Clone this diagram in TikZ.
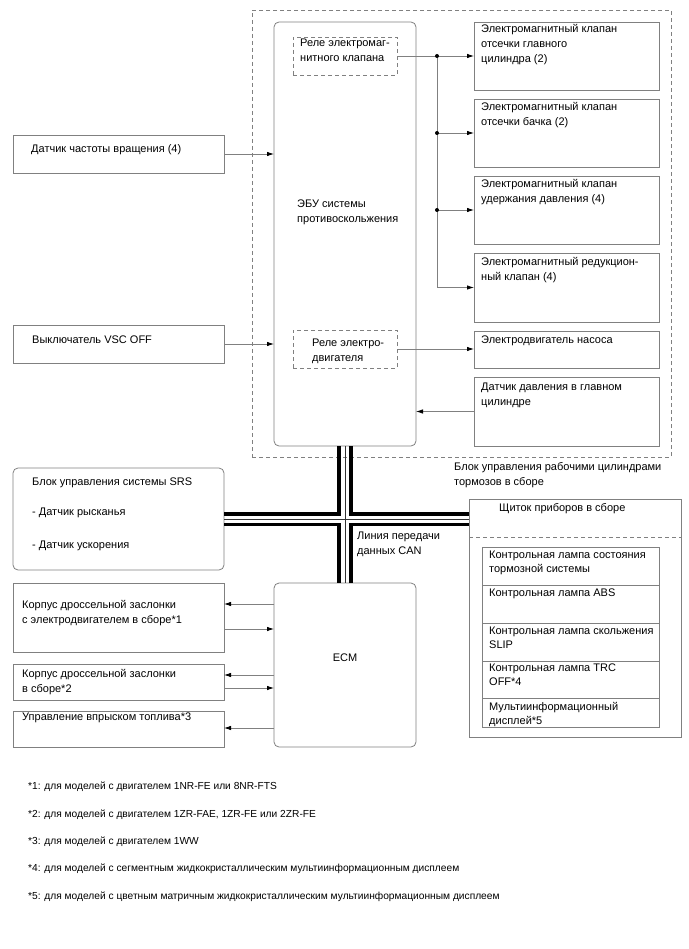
\documentclass[tikz,border=0pt]{standalone}
\usepackage{fontspec}
\setmainfont{Liberation Sans}
\usetikzlibrary{arrows.meta,calc}
\definecolor{lg}{RGB}{128,128,128}
\newcommand\myfs{\fontsize{11}{15}\selectfont}
\newcommand\myfsi{\fontsize{11}{14.3}\selectfont}
\newcommand\myfsn{\fontsize{10.2}{14}\selectfont}
\begin{document}
\begin{tikzpicture}[x=1pt,y=-1pt,
  bx/.style={draw=lg, line width=0.8pt, anchor=north west, inner sep=0pt, outer sep=0pt},
  rbx/.style={bx, rounded corners=5pt},
  dbx/.style={bx, dash pattern=on 4pt off 3pt},
  txt/.style={anchor=base west, inner sep=0pt, align=left, font=\myfs},
  ltwo/.style={yshift=-15pt},
  lthree/.style={yshift=-30pt},
  itxt/.style={txt, font=\myfsi},
  ilt/.style={yshift=-14.3pt},
  ntxt/.style={txt, font=\myfsn},
  conn/.style={draw=lg, line width=0.8pt},
  arr/.style={conn, -{Latex[length=7pt,width=4.5pt,black]}},
  bus/.style={line width=3.6pt, black},
  dotc/.style={fill=black},
  ]
\path[use as bounding box] (0,0) rectangle (688,949);

% outer dashed block
\node[dbx, minimum width=419pt, minimum height=447pt] (blk) at (252,10) {};
% ECU
\node[rbx, fill=white, minimum width=142pt, minimum height=424pt] (ecu) at (274,22) {};
\node[dbx, minimum width=104pt, minimum height=38pt] (rel1) at (293,37) {};
\node[dbx, minimum width=104pt, minimum height=38pt] (rel2) at (293,330) {};
% right boxes
\node[bx, minimum width=185pt, minimum height=68pt] (b1) at (474,22) {};
\node[bx, minimum width=185pt, minimum height=68pt] (b2) at (474,99) {};
\node[bx, minimum width=185pt, minimum height=68pt] (b3) at (474,176) {};
\node[bx, minimum width=185pt, minimum height=69pt] (b4) at (474,253) {};
\node[bx, minimum width=185pt, minimum height=37pt] (b5) at (474,331) {};
\node[bx, minimum width=185pt, minimum height=69pt] (b6) at (474,377) {};
% left boxes
\node[bx, minimum width=211pt, minimum height=38pt] (sens) at (13,135) {};
\node[bx, minimum width=211pt, minimum height=38pt] (vsc) at (13,325) {};
\node[rbx, minimum width=211pt, minimum height=102pt] (srs) at (13,468) {};
\node[bx, minimum width=211pt, minimum height=69pt] (thr1) at (13,583) {};
\node[bx, minimum width=211pt, minimum height=36pt] (thr2) at (13,664) {};
\node[bx, minimum width=211pt, minimum height=36pt] (fuel) at (13,711) {};
% ECM
\node[rbx, minimum width=142pt, minimum height=164pt] (ecm) at (274,583) {};
% instrument cluster
\node[bx, minimum width=212pt, minimum height=238pt] (inst) at (469,499) {};
\node[bx, minimum width=177pt, minimum height=180pt] (inner) at (482,547) {};
\draw[lg, line width=0.8pt, dash pattern=on 4pt off 3pt] ($(inst.north west)+(0,38)$) -- ($(inst.north east)+(0,38)$);
\foreach \d in {38,76,114,151}
  \draw[lg, line width=0.8pt] ($(inner.north west)+(0,\d)$) -- ($(inner.north east)+(0,\d)$);

% texts
\node[txt, lthree] (t1) at (481,33) {Электромагнитный клапан\\отсечки главного\\цилиндра (2)};
\node[txt, ltwo] (t2) at (481,111) {Электромагнитный клапан\\отсечки бачка (2)};
\node[txt, ltwo] (t3) at (481,188) {Электромагнитный клапан\\удержания давления (4)};
\node[txt, ltwo] (t4) at (481,265) {Электромагнитный редукцион-\\ный клапан (4)};
\node[txt] (t5) at (481,343) {Электродвигатель насоса};
\node[txt, ltwo] (t6) at (481,390) {Датчик давления в главном\\цилиндре};
\node[txt, ltwo] (tr1) at (300,47) {Реле электромаг-\\нитного клапана};
\node[txt, ltwo] (tecu) at (297,208) {ЭБУ системы\\противоскольжения};
\node[txt, ltwo] (tr2) at (312,346) {Реле электро-\\двигателя};
\node[txt] (ts) at (31,153) {Датчик частоты вращения (4)};
\node[txt] (tv) at (32,343) {Выключатель VSC OFF};
\node[txt] (tsrs1) at (32,485) {Блок управления системы SRS};
\node[txt] (tsrs2) at (32,515) {- Датчик рысканья};
\node[txt] (tsrs3) at (32,548) {- Датчик ускорения};
\node[txt, ltwo] (tcan) at (357,539) {Линия передачи\\данных CAN};
\node[txt, ltwo] (tblk) at (454,470) {Блок управления рабочими цилиндрами\\тормозов в сборе};
\node[txt] (tinst) at (499,511) {Щиток приборов в сборе};
\node[itxt, ilt] (ti1) at (489,558) {Контрольная лампа состояния\\тормозной системы};
\node[itxt] (ti2) at (489,596.5) {Контрольная лампа ABS};
\node[itxt, ilt] (ti3) at (489,634) {Контрольная лампа скольжения\\SLIP};
\node[itxt, ilt] (ti4) at (489,671.5) {Контрольная лампа TRC\\OFF*4};
\node[itxt, ilt] (ti5) at (489,710) {Мультиинформационный\\дисплей*5};
\node[anchor=base, inner sep=0pt, font=\myfs] (tecm) at (345,661) {ECM};
\node[txt, ltwo] (tt1) at (22,608) {Корпус дроссельной заслонки\\с электродвигателем в сборе*1};
\node[txt, ltwo] (tt2) at (22,677) {Корпус дроссельной заслонки\\в сборе*2};
\node[txt] (tf) at (22,720) {Управление впрыском топлива*3};
\node[ntxt] (n1) at (28,789) {*1: для моделей с двигателем 1NR-FE или 8NR-FTS};
\node[ntxt] (n2) at (28,817) {*2: для моделей с двигателем 1ZR-FAE, 1ZR-FE или 2ZR-FE};
\node[ntxt] (n3) at (28,844) {*3: для моделей с двигателем 1WW};
\node[ntxt] (n4) at (28,871) {*4: для моделей с сегментным жидкокристаллическим мультиинформационным дисплеем};
\node[ntxt] (n5) at (28,899) {*5: для моделей с цветным матричным жидкокристаллическим мультиинформационным дисплеем};

% valve connectors
\coordinate (j1) at (437,56);
\coordinate (j2) at (437,133);
\coordinate (j3) at (437,210);
\draw[arr] (rel1.east) -- (rel1.east -| b1.west);
\draw[conn] (j1) -- (j3);
\draw[arr] (j2) -- (b2.west);
\draw[arr] (j3) -- (b3.west);
\draw[arr] (j3) |- (b4.west);
\foreach \j in {j1,j2,j3} \fill[dotc] (\j) circle (2pt);
\draw[arr] (rel2.east) -- (rel2.east -| b5.west);
\draw[arr] (b6.west) -- (b6.west -| ecu.east);
\draw[arr] (sens.east) -- (sens.east -| ecu.west);
\draw[arr] (vsc.east) -- (vsc.east -| ecu.west);

% ECM connectors
\coordinate (a1) at ($(thr1.north east)+(0,21)$);
\coordinate (a2) at ($(thr1.north east)+(0,46)$);
\coordinate (a3) at ($(thr2.north east)+(0,11)$);
\coordinate (a4) at ($(thr2.north east)+(0,24)$);
\coordinate (a5) at ($(fuel.north east)+(0,17)$);
\draw[arr] (a1 -| ecm.west) -- (a1);
\draw[arr] (a2) -- (a2 -| ecm.west);
\draw[arr] (a3 -| ecm.west) -- (a3);
\draw[arr] (a4) -- (a4 -| ecm.west);
\draw[arr] (a5 -| ecm.west) -- (a5);

% CAN bus
\coordinate (x0) at (ecu.south |- srs.east);
\coordinate (xr) at (inst.west |- srs.east);
\draw[bus] ($(srs.east)+(0,-5.3)$) -- ($(x0)+(-6,-5.3)$) -- ($(ecu.south)+(-6,0)$);
\draw[bus] ($(ecu.south)+(6,0)$) -- ($(x0)+(6,-5.3)$) -- ($(xr)+(0,-5.3)$);
\draw[bus] ($(srs.east)+(0,5.3)$) -- ($(x0)+(-6,5.3)$) -- ($(ecm.north)+(-6,0)$);
\draw[bus] ($(ecm.north)+(6,0)$) -- ($(x0)+(6,5.3)$) -- ($(xr)+(0,5.3)$);
\draw[black!80, line width=0.8pt] (ecu.south) -- (ecm.north);
\draw[black!80, line width=0.8pt] (srs.east) -- (xr);
\end{tikzpicture}
\end{document}
